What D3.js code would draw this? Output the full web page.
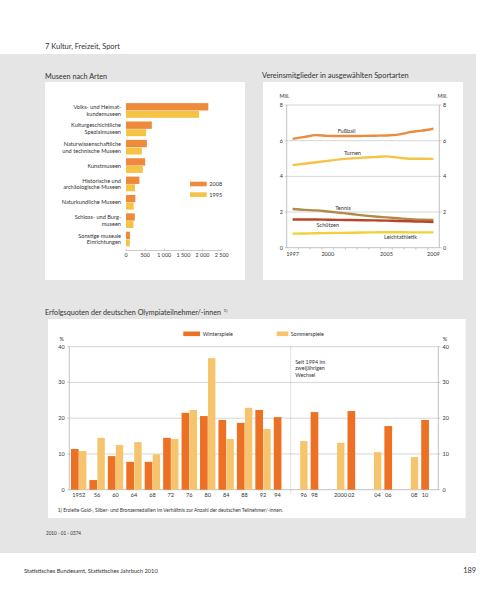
<!DOCTYPE html>
<html><head><meta charset="utf-8">
<script src="https://cdn.jsdelivr.net/npm/d3@7"></script>
<style>
html,body{margin:0;padding:0;background:#fff;}
svg text{font-family:Lato,"Open Sans",sans-serif;fill:#333;}
</style></head>
<body><svg id="c" width="500" height="595"></svg>
<script>
// ---------- DATA ----------
const museumCategories = [
  ["Volks- und Heimat-","kundemuseen"],
  ["Kulturgeschichtliche","Spezialmuseen"],
  ["Naturwissenschaftliche","und technische Museen"],
  ["Kunstmuseen"],
  ["Historische und","archäologische Museen"],
  ["Naturkundliche Museen"],
  ["Schloss- und Burg-","museen"],
  ["Sonstige museale","Einrichtungen"]
];
const museums2008 = [2150, 675, 545, 500, 350, 245, 230, 105];
const museums1995 = [1910, 525, 415, 440, 235, 200, 195, 100];
const museumTicks = [0, 500, 1000, 1500, 2000, 2500];
const museumTickLabels = ["0","500","1 000","1 500","2 000","2 500"];

const sportYears = [1997,1998,1999,2000,2001,2002,2003,2004,2005,2006,2007,2008,2009];
const sportYearLabels = [1997, 2000, 2005, 2009];
const fussball  = [6.10,6.21,6.31,6.27,6.26,6.26,6.27,6.28,6.29,6.34,6.48,6.56,6.67];
const turnen    = [4.63,4.71,4.79,4.87,4.95,5.01,5.05,5.08,5.12,5.05,4.99,4.99,4.98];
const tennis    = [2.17,2.12,2.09,2.03,1.96,1.89,1.81,1.75,1.70,1.65,1.60,1.57,1.55];
const schuetzen = [1.58,1.58,1.58,1.57,1.56,1.55,1.54,1.53,1.52,1.50,1.48,1.46,1.44];
const leicht    = [0.79,0.80,0.81,0.82,0.83,0.84,0.85,0.86,0.87,0.87,0.86,0.86,0.86];
const sportNames = ["Fußball","Turnen","Tennis","Schützen","Leichtathletik"];
const sportTicks = [0,2,4,6,8];

const olyLabels = ["1952","56","60","64","68","72","76","80","84","88","92","94","96","98","2000","02","04","06","08","10"];
const winter = [11.4,2.7,9.4,7.8,7.8,14.5,21.5,20.6,19.5,18.7,22.3,20.3,null,21.7,null,22.0,null,17.8,null,19.5];
const summer = [10.8,14.5,12.5,13.3,9.9,14.2,22.3,36.8,14.2,22.9,17.0,null,13.6,null,13.1,null,10.5,null,9.1,null];
const olyTicks = [0,10,20,30,40];

// ---------- STYLE ----------
const C = {
  bg:"#e5e5e5", grid:"#c4c4c4", axis:"#a8a8a8",
  m2008:"#ee8a3c", m1995:"#f5c445",
  fussball:"#ee8a3c", turnen:"#f5c445", tennis:"#b08a48", schuetzen:"#b8452b", leicht:"#f2d03c",
  winter:"#ec7124", summer:"#f5c46c"
};
const svg = d3.select("#c");
function txt(g,x,y,s,size,anchor){
  return g.append("text").attr("x",x).attr("y",y).attr("font-size",size)
    .attr("text-anchor",anchor||"start").text(s);
}
function fit(t,target){
  const w = t.node().getComputedTextLength();
  if(w>0){ const fs = +t.attr("font-size"); t.attr("font-size", fs*target/w); }
  return t;
}
function fitSize(s,size,target){
  const t = svg.append("text").attr("font-size",size).text(s);
  const w = t.node().getComputedTextLength(); t.remove();
  return w>0 ? size*target/w : size;
}

// page
svg.append("rect").attr("x",0).attr("y",54).attr("width",476).attr("height",499).attr("fill",C.bg);
fit(txt(svg,45,49,"7  Kultur, Freizeit, Sport",6.9),75);
fit(txt(svg,24,573,"Statistisches Bundesamt, Statistisches Jahrbuch 2010",5.3),134);
txt(svg,476,573,"189",7.4,"end");
fit(txt(svg,46,535,"2010 - 01 - 0374",4.6),35);

// ---------- MUSEUMS ----------
fit(txt(svg,45,78.5,"Museen nach Arten",7.3),62.3);
svg.append("rect").attr("x",45).attr("y",82).attr("width",200).attr("height",198).attr("fill","#fff");
{
  const g = svg.append("g");
  const x = d3.scaleLinear().domain([0,2500]).range([126,221.7]);
  const y = d3.scaleBand().domain(d3.range(museumCategories.length)).range([101.3,248.2]).paddingInner(0.2).paddingOuter(0.1);
  const bw = y.bandwidth()/2;
  g.selectAll(".b8").data(museums2008).join("rect")
    .attr("x",x(0)).attr("y",(d,i)=>y(i)).attr("width",d=>x(d)-x(0)).attr("height",bw).attr("fill",C.m2008);
  g.selectAll(".b9").data(museums1995).join("rect")
    .attr("x",x(0)).attr("y",(d,i)=>y(i)+bw+0.4).attr("width",d=>x(d)-x(0)).attr("height",bw-0.4).attr("fill",C.m1995);
  const lfs = fitSize("Naturwissenschaftliche",5.5,57.5);
  museumCategories.forEach((lines,i)=>{
    const cy = y(i)+y.bandwidth()/2;
    const lh = 6.8;
    lines.forEach((l,j)=>{
      txt(g,121,cy + (j-(lines.length-1)/2)*lh + 2,l,lfs,"end");
    });
  });
  const ay = 250.5;
  g.append("line").attr("x1",x(0)).attr("x2",x(2500)).attr("y1",ay).attr("y2",ay).attr("stroke",C.axis).attr("stroke-width",0.6);
  museumTicks.forEach((t,i)=>{
    g.append("line").attr("x1",x(t)).attr("x2",x(t)).attr("y1",ay-1.8).attr("y2",ay).attr("stroke",C.axis).attr("stroke-width",0.6);
    txt(g,x(t),257,museumTickLabels[i],5.4,"middle");
  });
  g.append("rect").attr("x",190).attr("y",181.7).attr("width",16.7).attr("height",4.6).attr("fill",C.m2008);
  g.append("rect").attr("x",190).attr("y",192.3).attr("width",16.7).attr("height",4.6).attr("fill",C.m1995);
  txt(g,209.3,186.2,"2008",5.6);
  txt(g,209.3,196.8,"1995",5.6);
}

// ---------- SPORTS ----------
fit(txt(svg,262,77.5,"Vereinsmitglieder in ausgewählten Sportarten",7.1),147);
svg.append("rect").attr("x",263).attr("y",82).attr("width",200).attr("height",198).attr("fill","#fff");
{
  const g = svg.append("g");
  const xb = d3.scaleBand().domain(sportYears).range([286.7,439.3]);
  const x = d => xb(d)+xb.bandwidth()/2;
  const y = d3.scaleLinear().domain([0,8]).range([247.7,105]);
  const L = 286.7, R = 439.3;
  sportTicks.forEach(t=>{
    g.append("line").attr("x1",L).attr("x2",R).attr("y1",y(t)).attr("y2",y(t))
      .attr("stroke",t===0?C.axis:C.grid).attr("stroke-width",0.7);
    g.append("line").attr("x1",L-2).attr("x2",L).attr("y1",y(t)).attr("y2",y(t)).attr("stroke",C.axis).attr("stroke-width",0.6);
    g.append("line").attr("x1",R).attr("x2",R+2).attr("y1",y(t)).attr("y2",y(t)).attr("stroke",C.axis).attr("stroke-width",0.6);
    txt(g,283,y(t)+2,String(t),5.5,"end");
    txt(g,443,y(t)+2,String(t),5.5,"start");
  });
  g.append("line").attr("x1",L).attr("x2",L).attr("y1",y(8)).attr("y2",y(0)).attr("stroke",C.axis).attr("stroke-width",0.7);
  g.append("line").attr("x1",R).attr("x2",R).attr("y1",y(8)).attr("y2",y(0)).attr("stroke",C.axis).attr("stroke-width",0.7);
  txt(g,289.5,98,"Mill.",5.3,"end");
  txt(g,437.5,98,"Mill.",5.3,"start");
  sportYears.forEach((yr,i)=>{
    if(i===0) return;
    g.append("line").attr("x1",xb(yr)).attr("x2",xb(yr)).attr("y1",y(0)).attr("y2",y(0)+2).attr("stroke",C.axis).attr("stroke-width",0.6);
  });
  sportYearLabels.forEach(yr=>txt(g,x(yr),256,String(yr),5.5,"middle"));
  const series = [
    {name:sportNames[0],v:fussball,c:C.fussball,lx:2001.6,dy:-5},
    {name:sportNames[1],v:turnen,c:C.turnen,lx:2002.1,dy:-5.5},
    {name:sportNames[2],v:tennis,c:C.tennis,lx:2001.3,dy:-5.5},
    {name:sportNames[3],v:schuetzen,c:C.schuetzen,lx:2000,dy:5.5},
    {name:sportNames[4],v:leicht,c:C.leicht,lx:2006.2,dy:5}
  ];
  const line = d3.line().x((d,i)=>x(sportYears[i])).y(d=>y(d)).curve(d3.curveMonotoneX);
  series.forEach(s=>{
    g.append("path").attr("d",line(s.v)).attr("fill","none").attr("stroke",s.c).attr("stroke-width",2.4);
  });
  series.forEach(s=>{
    const px = x(1997) + (s.lx-1997)*xb.step();
    const i0 = Math.floor(s.lx-1997), f = (s.lx-1997)-i0;
    const v = s.v[i0]*(1-f)+s.v[Math.min(i0+1,s.v.length-1)]*f;
    txt(g,px,y(v)+s.dy+2,s.name,5.6,"middle");
  });
}

// ---------- OLYMPICS ----------
const ot = fit(txt(svg,45,315,"Erfolgsquoten der deutschen Olympiateilnehmer/-innen",7.1),176);
svg.append("text").attr("x",45+ot.node().getComputedTextLength()+2.5).attr("y",312).attr("font-size",4.6).text("1)");
svg.append("rect").attr("x",48).attr("y",319).attr("width",417.7).attr("height",199).attr("fill","#fff");
{
  const g = svg.append("g");
  const L = 69.3, R = 438.3;
  const x = d3.scaleBand().domain(olyLabels).range([L,R]).paddingInner(0.165).paddingOuter(0.09);
  const bw = x.bandwidth()/2;
  const y = d3.scaleLinear().domain([0,40]).range([489.7,346.7]);
  olyTicks.forEach(t=>{
    g.append("line").attr("x1",L).attr("x2",R).attr("y1",y(t)).attr("y2",y(t))
      .attr("stroke",t===0?C.axis:C.grid).attr("stroke-width",0.7);
    g.append("line").attr("x1",L-2).attr("x2",L).attr("y1",y(t)).attr("y2",y(t)).attr("stroke",C.axis).attr("stroke-width",0.6);
    g.append("line").attr("x1",R).attr("x2",R+2).attr("y1",y(t)).attr("y2",y(t)).attr("stroke",C.axis).attr("stroke-width",0.6);
    txt(g,64.7,y(t)+2,String(t),5.5,"end");
    txt(g,442.5,y(t)+2,String(t),5.5,"start");
  });
  txt(g,64,340.5,"%",5.5,"end");
  txt(g,442.8,340.5,"%",5.5,"start");
  g.append("line").attr("x1",L).attr("x2",L).attr("y1",y(40)).attr("y2",y(0)).attr("stroke",C.axis).attr("stroke-width",0.7);
  g.append("line").attr("x1",R).attr("x2",R).attr("y1",y(40)).attr("y2",y(0)).attr("stroke",C.axis).attr("stroke-width",0.7);
  const sx = x("96") - x.step()*x.paddingInner()/2;
  g.append("line").attr("x1",sx).attr("x2",sx).attr("y1",y(40)).attr("y2",y(0)+4)
    .attr("stroke","#999").attr("stroke-width",0.7).attr("stroke-dasharray","0.8,1.2");
  ["Seit 1994 im","zweijährigen","Wechsel"].forEach((l,i)=>txt(g,sx+4.5,363.5+i*6.9,l,5.4));
  olyLabels.forEach((lab,i)=>{
    const w = winter[i], s = summer[i];
    if(w!=null) g.append("rect").attr("x",x(lab)).attr("y",y(w)).attr("width",bw).attr("height",y(0)-y(w)).attr("fill",C.winter);
    if(s!=null) g.append("rect").attr("x",x(lab)+bw+0.3).attr("y",y(s)).attr("width",bw-0.3).attr("height",y(0)-y(s)).attr("fill",C.summer);
    let cx;
    if(w!=null && s!=null) cx = x(lab)+x.bandwidth()/2;
    else if(w!=null) cx = x(lab)+bw/2;
    else cx = x(lab)+bw+bw/2;
    txt(g,cx,497,lab,5.6,"middle");
  });
  g.append("rect").attr("x",183.3).attr("y",331.5).attr("width",16.7).attr("height",4.6).attr("fill",C.winter);
  txt(g,202.7,335.7,"Winterspiele",5.4);
  g.append("rect").attr("x",276.7).attr("y",331.5).attr("width",11.7).attr("height",4.6).attr("fill",C.summer);
  txt(g,290.7,335.7,"Sommerspiele",5.4);
  fit(txt(g,57.7,511.5,"1) Erzielte Gold-, Silber- und Bronzemedaillen im Verhältnis zur Anzahl der deutschen Teilnehmer/-innen.",4.4),225.6);
}
</script></body></html>
